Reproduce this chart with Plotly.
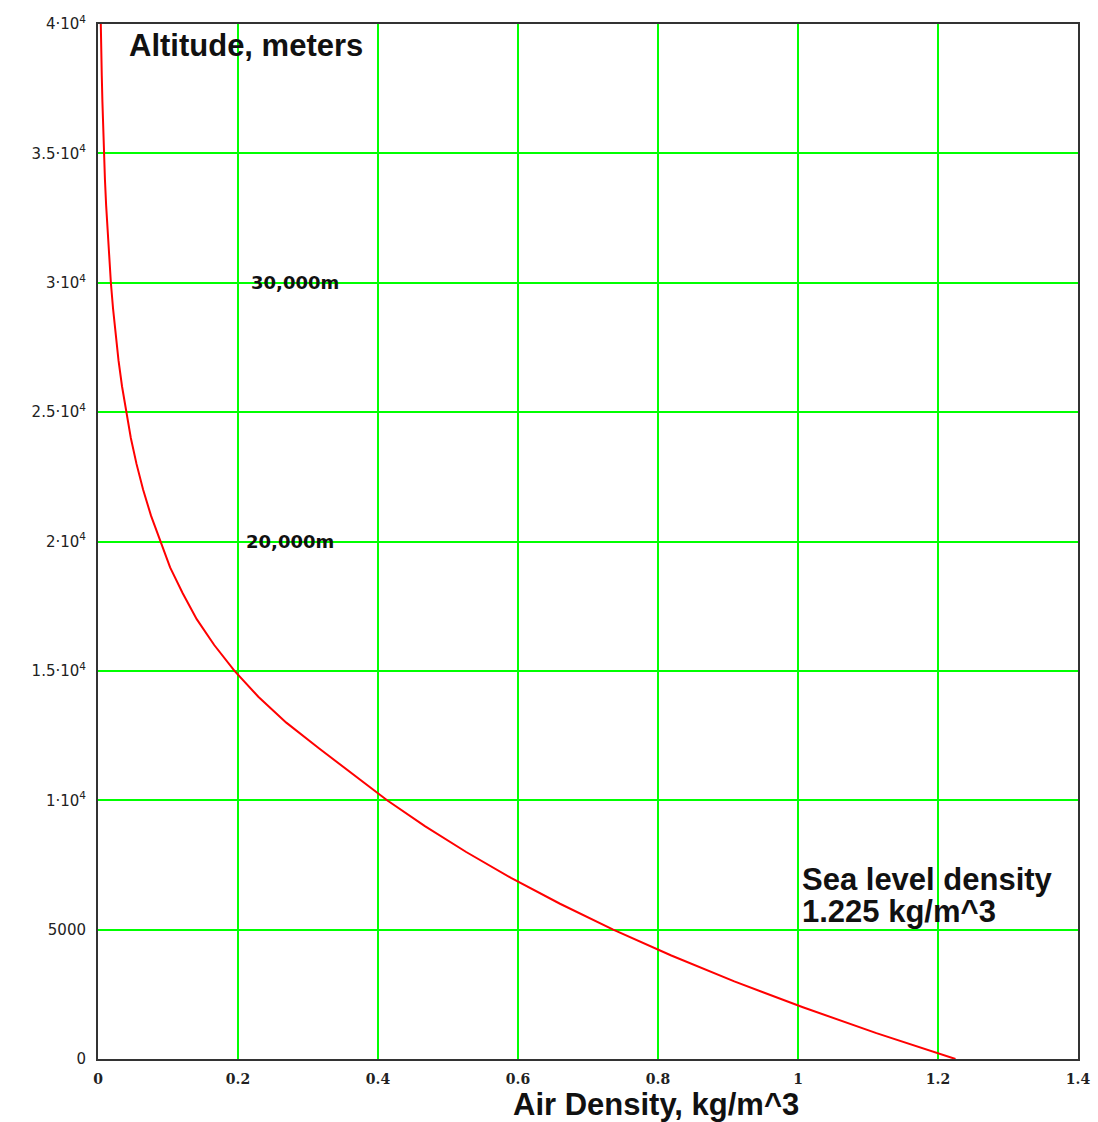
import plotly.graph_objects as go

# Altitude (m) and air density (kg/m^3)
altitude_m = [0, 1000, 2000, 3000, 4000, 5000, 6000, 7000, 8000, 9000, 10000,
              11000, 12000, 13000, 14000, 15000, 16000, 17000, 18000, 19000, 20000,
              21000, 22000, 23000, 24000, 25000, 26000, 27000, 28000, 29000, 30000,
              31000, 32000, 33000, 34000, 35000, 36000, 37000, 38000, 39000, 40000]
density = [1.225, 1.112, 1.007, 0.909, 0.819, 0.736, 0.660, 0.590, 0.526, 0.467, 0.413,
           0.364, 0.316, 0.269, 0.229, 0.195, 0.166, 0.141, 0.121, 0.103, 0.0889,
           0.0757, 0.0645, 0.0550, 0.0469, 0.0401, 0.0343, 0.0293, 0.0251, 0.0215, 0.0184,
           0.0158, 0.0136, 0.0116, 0.0099, 0.0085, 0.0073, 0.0063, 0.0054, 0.0046, 0.0040]

x_ticks = [0, 0.2, 0.4, 0.6, 0.8, 1.0, 1.2, 1.4]
x_tick_labels = ["0", "0.2", "0.4", "0.6", "0.8", "1", "1.2", "1.4"]
y_ticks = [0, 5000, 10000, 15000, 20000, 25000, 30000, 35000, 40000]
y_tick_labels = ["0", "5000", "1·10<sup>4</sup>", "1.5·10<sup>4</sup>", "2·10<sup>4</sup>",
                 "2.5·10<sup>4</sup>", "3·10<sup>4</sup>", "3.5·10<sup>4</sup>", "4·10<sup>4</sup>"]

fig = go.Figure()
fig.add_trace(go.Scatter(x=density, y=altitude_m, mode="lines",
                         line=dict(color="#ff0000", width=2),
                         showlegend=False, hoverinfo="x+y"))

big = dict(family="Liberation Sans, Arial, sans-serif", size=31, color="#111111", weight="bold")
mid = dict(family="DejaVu Sans, sans-serif", size=18, color="#111111", weight="bold")

fig.add_annotation(x=0.041, y=39150, xref="x", yref="y", text="Altitude, meters",
                   showarrow=False, xanchor="left", yanchor="middle", font=big)
fig.add_annotation(x=0.215, y=30000, xref="x", yref="y", text="30,000m",
                   showarrow=False, xanchor="left", yanchor="middle", font=mid)
fig.add_annotation(x=0.209, y=20000, xref="x", yref="y", text="20,000m",
                   showarrow=False, xanchor="left", yanchor="middle", font=mid)
fig.add_annotation(x=1.003, y=6930, xref="x", yref="y", text="Sea level density",
                   showarrow=False, xanchor="left", yanchor="middle", font=big)
fig.add_annotation(x=1.003, y=5700, xref="x", yref="y", text="1.225 kg/m^3",
                   showarrow=False, xanchor="left", yanchor="middle", font=big)
fig.add_annotation(x=0.797, y=0, xref="x", yref="paper", yshift=-45, text="Air Density, kg/m^3",
                   showarrow=False, xanchor="center", yanchor="middle", font=big)

fig.update_layout(
    width=1098, height=1122,
    margin=dict(l=98, r=20, t=24, b=63),
    paper_bgcolor="white", plot_bgcolor="white",
    xaxis=dict(range=[0, 1.4], tickvals=x_ticks, ticktext=x_tick_labels,
               showgrid=True, gridcolor="#00ff00", gridwidth=2, zeroline=False,
               showline=True, linecolor="#333333", linewidth=2, mirror=True,
               ticks="", ticklabelstandoff=6, automargin=False,
               tickfont=dict(family="DejaVu Serif, serif", size=14, color="#222222", weight="bold")),
    yaxis=dict(range=[0, 40000], tickvals=y_ticks, ticktext=y_tick_labels,
               showgrid=True, gridcolor="#00ff00", gridwidth=2, zeroline=False,
               showline=True, linecolor="#333333", linewidth=2, mirror=True,
               ticks="", ticklabelstandoff=7, automargin=False,
               tickfont=dict(family="DejaVu Sans, sans-serif", size=15, color="#222222")),
)

fig.write_html("out.html", config={"displayModeBar": False},
               post_script="document.body.style.margin='0';document.body.style.overflow='hidden';")
